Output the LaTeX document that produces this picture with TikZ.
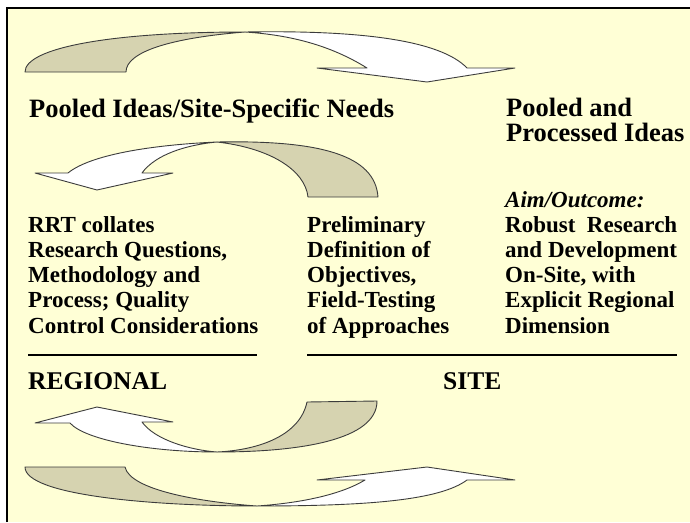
\documentclass[tikz,border=0pt]{standalone}
\usepackage{fontspec}
\setmainfont{Liberation Serif}
\definecolor{bgyel}{RGB}{255,255,214}
\definecolor{tan}{RGB}{214,211,176}
\definecolor{edge}{RGB}{60,60,60}
\begin{document}
\begin{tikzpicture}[x=1pt,y=-1pt,
  band/.style={draw=edge,line width=0.9pt,line join=round},
  tanband/.style={band,fill=tan},
  whiteband/.style={band,fill=white},
  txt/.style={anchor=base west,inner sep=0pt,align=left,font=\fontsize{23}{25.2}\selectfont\bfseries},
  bigtxt/.style={txt,font=\fontsize{26.5}{24.5}\selectfont\bfseries},
  labtxt/.style={txt,font=\fontsize{25.5}{25}\selectfont\bfseries},
  rule/.style={line width=2.2pt}]
\useasboundingbox (0,0) rectangle (690,522);
\fill[bgyel] (7,8) rectangle (690,522);
\draw[line width=1.4pt] (7,522) -- (7,8) -- (690,8);

% arrow 1 (top)
\draw[tanband] (25,72) .. controls (25,48) and (110,32) .. (245,32)
  .. controls (170,38) and (126,52) .. (126,72) -- cycle;
\draw[whiteband] (245,32) .. controls (360,30) and (440,40) .. (467,68)
  -- (515,68) -- (427,82) -- (317,68) -- (367,68)
  .. controls (330,45) and (290,35) .. (245,32) -- cycle;

% arrow 2
\draw[tanband] (217,142) .. controls (320,140) and (375,155) .. (378,197)
  -- (308,197) .. controls (305,170) and (270,148) .. (217,142) -- cycle;
\draw[whiteband] (217,142) .. controls (150,145) and (90,155) .. (68,173)
  -- (35,173) -- (97,190) -- (173,173) -- (142,173)
  .. controls (155,155) and (185,145) .. (217,142) -- cycle;

% arrow 3
\draw[tanband] (307,402) -- (377,401) .. controls (377,440) and (300,452) .. (217,452)
  .. controls (260,450) and (300,435) .. (307,402) -- cycle;
\draw[whiteband] (217,452) .. controls (150,452) and (85,440) .. (70,423)
  -- (35,423) -- (97,407) -- (173,422) -- (142,422)
  .. controls (155,440) and (190,450) .. (217,452) -- cycle;

% arrow 4 (bottom)
\draw[tanband] (25,467) -- (125,467) .. controls (130,490) and (200,502) .. (257,506)
  .. controls (150,506) and (25,495) .. (25,467) -- cycle;
\draw[whiteband] (257,506) .. controls (370,506) and (440,500) .. (467,480)
  -- (515,480) -- (427,467) -- (317,480) -- (365,480)
  .. controls (340,495) and (300,503) .. (257,506) -- cycle;

% texts (base anchor = baseline of last line)
\node[bigtxt] (pooledneeds) at (29,117) {Pooled Ideas/Site-Specific Needs};
\node[bigtxt] (processed) at (506,141) {Pooled and\\Processed Ideas};
\node[txt] (aim) at (505,207) {\itshape Aim/Outcome:};
\node[txt] (rrt) at (28,333) {RRT collates\\Research Questions,\\Methodology and\\Process; Quality\\Control Considerations};
\node[txt] (prelim) at (307,333) {Preliminary\\Definition of\\Objectives,\\Field-Testing\\of Approaches};
\node[txt] (robust) at (505,333) {Robust\ \ Research\\and Development\\On-Site, with\\Explicit Regional\\Dimension};
\coordinate (l1a) at (28,355); \coordinate (l1b) at (257,355);
\coordinate (l2a) at (307,355); \coordinate (l2b) at (677,355);
\draw[rule] (l1a) -- (l1b);
\draw[rule] (l2a) -- (l2b);
\node[labtxt] (regional) at (28,389) {REGIONAL};
\node[labtxt] (site) at (443,389) {SITE};
\end{tikzpicture}
\end{document}
